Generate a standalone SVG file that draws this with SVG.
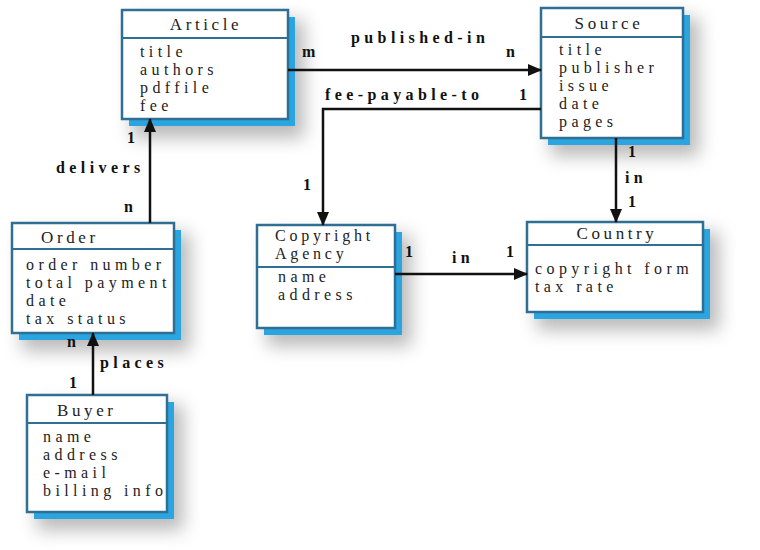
<svg xmlns="http://www.w3.org/2000/svg" width="760" height="550" viewBox="0 0 760 550">
  <style>
    .haze { fill: #8a8a8a; opacity: 0.6; filter: url(#soft); }
    .back { fill: #2aa5df; }
    .box { fill: #ffffff; stroke: #2f6f94; stroke-width: 2.5; }
    .div { stroke: #2f6f94; stroke-width: 2; }
    .title { font-family: "Liberation Serif", "DejaVu Serif", "Times New Roman", serif; font-size: 17px; letter-spacing: 3.6px; fill: #222; }
    .title2 { font-family: "Liberation Serif", "DejaVu Serif", "Times New Roman", serif; font-size: 16px; letter-spacing: 3.8px; fill: #222; }
    .attr { font-family: "Liberation Serif", "DejaVu Serif", "Times New Roman", serif; font-size: 16px; letter-spacing: 4.4px; fill: #222; }
    .lbl { font-family: "Liberation Serif", "DejaVu Serif", "Times New Roman", serif; font-size: 16px; font-weight: bold; letter-spacing: 4.4px; fill: #111; }
    .edge { fill: none; stroke: #111; stroke-width: 2.5; }
  </style>
  <defs>
    <filter id="soft" x="-30%" y="-30%" width="160%" height="160%">
      <feGaussianBlur stdDeviation="9"/>
    </filter>
    <marker id="arrow" markerUnits="userSpaceOnUse" markerWidth="14" markerHeight="12" refX="13" refY="6" orient="auto">
      <path d="M0,0 L14,6 L0,12 Z" fill="#111"/>
    </marker>
  </defs>
  <rect width="760" height="550" fill="#ffffff"/>

  <!-- entity boxes -->
  <g id="article">
    <rect class="haze" x="132" y="20" width="172" height="118"/>
    <rect class="back" x="129" y="17" width="166" height="109"/>
    <rect class="box" x="122" y="10" width="166" height="109"/>
    <line class="div" x1="122" y1="38" x2="288" y2="38"/>
    <text class="title" x="206" y="30" text-anchor="middle">Article</text>
    <text class="attr" x="140" y="57">title</text>
    <text class="attr" x="140" y="75">authors</text>
    <text class="attr" x="140" y="93">pdffile</text>
    <text class="attr" x="140" y="111">fee</text>
  </g>

  <g id="source">
    <rect class="haze" x="551" y="18" width="148" height="138"/>
    <rect class="back" x="548" y="15" width="142" height="130"/>
    <rect class="box" x="541" y="8" width="142" height="130"/>
    <line class="div" x1="541" y1="37" x2="683" y2="37"/>
    <text class="title" x="609" y="29" text-anchor="middle">Source</text>
    <text class="attr" x="559" y="55">title</text>
    <text class="attr" x="559" y="73">publisher</text>
    <text class="attr" x="559" y="91">issue</text>
    <text class="attr" x="559" y="109">date</text>
    <text class="attr" x="559" y="127">pages</text>
  </g>

  <g id="order">
    <rect class="haze" x="22" y="233" width="168" height="118"/>
    <rect class="back" x="19" y="230" width="162" height="110"/>
    <rect class="box" x="12" y="223" width="162" height="110"/>
    <line class="div" x1="12" y1="249" x2="174" y2="249"/>
    <text class="title" x="41" y="243">Order</text>
    <text class="attr" x="26" y="270">order number</text>
    <text class="attr" x="26" y="288">total payment</text>
    <text class="attr" x="26" y="306">date</text>
    <text class="attr" x="26" y="324">tax status</text>
  </g>

  <g id="copyright-agency">
    <rect class="haze" x="267" y="235" width="144" height="111"/>
    <rect class="back" x="264" y="232" width="138" height="103"/>
    <rect class="box" x="257" y="225" width="138" height="103"/>
    <line class="div" x1="257" y1="267" x2="395" y2="267"/>
    <text class="title2" x="275" y="241">Copyright</text>
    <text class="title2" x="275" y="259">Agency</text>
    <text class="attr" x="278" y="282">name</text>
    <text class="attr" x="278" y="300">address</text>
  </g>

  <g id="country">
    <rect class="haze" x="537" y="232" width="182" height="98"/>
    <rect class="back" x="534" y="229" width="176" height="90"/>
    <rect class="box" x="527" y="222" width="176" height="90"/>
    <line class="div" x1="527" y1="245" x2="703" y2="245"/>
    <text class="title" x="617" y="239" text-anchor="middle">Country</text>
    <text class="attr" x="535" y="274">copyright form</text>
    <text class="attr" x="535" y="292">tax rate</text>
  </g>

  <g id="buyer">
    <rect class="haze" x="37" y="405" width="146" height="125"/>
    <rect class="back" x="34" y="402" width="140" height="117"/>
    <rect class="box" x="27" y="395" width="140" height="117"/>
    <line class="div" x1="27" y1="423" x2="167" y2="423"/>
    <text class="title" x="57" y="416">Buyer</text>
    <text class="attr" x="43" y="442">name</text>
    <text class="attr" x="43" y="460">address</text>
    <text class="attr" x="43" y="478">e-mail</text>
    <text class="attr" x="43" y="496">billing info</text>
  </g>

  <!-- relationships -->
  <g id="connectors">
    <path class="edge" d="M288,70 H541" marker-end="url(#arrow)"/>
    <path class="edge" d="M541,109 H323 V225" marker-end="url(#arrow)"/>
    <path class="edge" d="M616,138 V222" marker-end="url(#arrow)"/>
    <path class="edge" d="M395,274 H527" marker-end="url(#arrow)"/>
    <path class="edge" d="M150,223 V119" marker-end="url(#arrow)"/>
    <path class="edge" d="M93,395 V333" marker-end="url(#arrow)"/>

    <text class="lbl" x="351" y="43">published-in</text>
    <text class="lbl" x="302" y="57">m</text>
    <text class="lbl" x="506" y="57">n</text>

    <text class="lbl" x="325" y="100">fee-payable-to</text>
    <text class="lbl" x="519" y="100">1</text>
    <text class="lbl" x="303" y="190">1</text>

    <text class="lbl" x="628" y="157">1</text>
    <text class="lbl" x="625" y="183">in</text>
    <text class="lbl" x="628" y="207">1</text>

    <text class="lbl" x="405" y="257">1</text>
    <text class="lbl" x="452" y="263">in</text>
    <text class="lbl" x="506" y="257">1</text>

    <text class="lbl" x="127" y="143">1</text>
    <text class="lbl" x="56" y="173">delivers</text>
    <text class="lbl" x="124" y="212">n</text>

    <text class="lbl" x="67" y="347">n</text>
    <text class="lbl" x="100" y="368">places</text>
    <text class="lbl" x="69" y="388">1</text>
  </g>
</svg>
